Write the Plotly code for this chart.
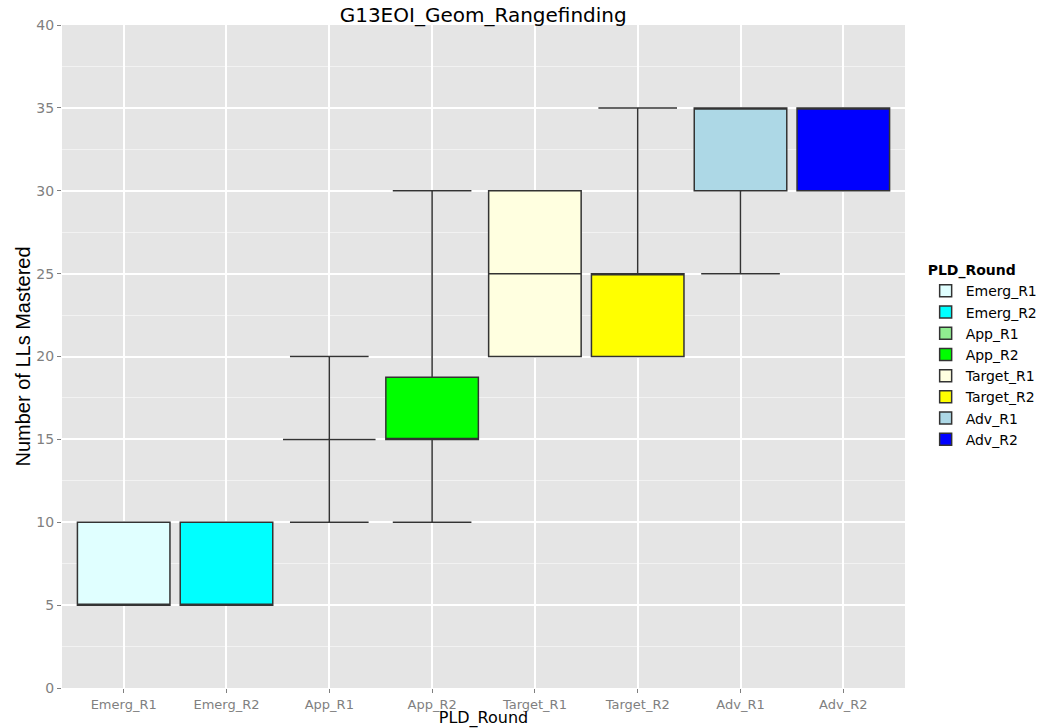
import plotly.graph_objects as go

categories = ["Emerg_R1", "Emerg_R2", "App_R1", "App_R2", "Target_R1", "Target_R2", "Adv_R1", "Adv_R2"]
lower = [5, 5, 10, 10, 20, 20, 25, 30]
q1 = [5, 5, 15, 15, 20, 20, 30, 30]
median = [5, 5, 15, 15, 25, 25, 35, 35]
q3 = [10, 10, 15, 18.75, 30, 25, 35, 35]
upper = [10, 10, 20, 30, 30, 35, 35, 35]

fill_colors = ["#E0FFFF", "#00FFFF", "#90EE90", "#00FF00", "#FFFFE0", "#FFFF00", "#ADD8E6", "#0000FF"]

fig = go.Figure()
for i, cat in enumerate(categories):
    fig.add_trace(go.Box(
        x=[cat], q1=[q1[i]], median=[median[i]], q3=[q3[i]],
        lowerfence=[lower[i]], upperfence=[upper[i]],
        name=cat, fillcolor=fill_colors[i],
        line=dict(color="#333333", width=1.5),
        width=0.9, whiskerwidth=0.85, boxpoints=False,
    ))

fig.update_layout(
    width=1055, height=728,
    paper_bgcolor="white", plot_bgcolor="#E5E5E5",
    margin=dict(l=62, r=150, t=25, b=40, autoexpand=False),
    boxmode="overlay", boxgap=0.1,
    font=dict(family="DejaVu Sans, Liberation Sans, Arial, sans-serif", color="#000000"),
    title=dict(text="G13EOI_Geom_Rangefinding", x=0.458, xanchor="center", y=0.989, yanchor="top",
               pad=dict(t=0, b=0), font=dict(size=20, color="#000000")),
    legend=dict(title=dict(text="<b>PLD_Round</b>", font=dict(size=14)),
                x=1.0245, xanchor="left", y=0.65, yanchor="top",
                font=dict(size=14), bgcolor="rgba(0,0,0,0)", tracegroupgap=0),
    xaxis=dict(
        type="category", categoryorder="array", categoryarray=categories,
        range=[-0.6, 7.6], showgrid=True, gridcolor="white", gridwidth=1.5,
        ticks="outside", ticklen=4, tickcolor="#7F7F7F", automargin=False,
        tickfont=dict(size=13, color="#7F7F7F"), zeroline=False,
        title=dict(text="PLD_Round", font=dict(size=16, color="#000000"), standoff=3),
    ),
    yaxis=dict(
        range=[0, 40], tickmode="array", tickvals=[0, 5, 10, 15, 20, 25, 30, 35, 40],
        showgrid=True, gridcolor="white", gridwidth=1.5, zeroline=False,
        ticks="outside", ticklen=4, tickcolor="#7F7F7F", automargin=False,
        tickfont=dict(size=14, color="#7F7F7F"),
        minor=dict(dtick=2.5, tick0=0, showgrid=True, gridcolor="#F2F2F2", gridwidth=1),
        title=dict(text="Number of LLs Mastered",
                   font=dict(size=20, color="#000000", family="Liberation Sans, Arial, sans-serif"),
                   standoff=0),
    ),
)

fig.write_html("out.html", config={"displayModeBar": False},
               post_script="document.body.style.margin='0';")
